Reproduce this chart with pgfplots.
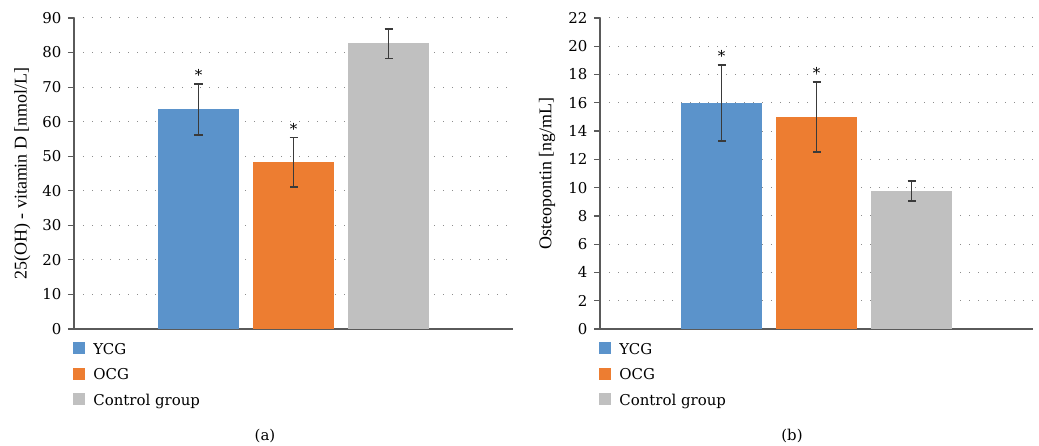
\documentclass[border=0pt]{standalone}
\usepackage{pgfplots}
\pgfplotsset{compat=1.18}
\usepackage{fontspec}
\setmainfont{DejaVu Serif}
\newfontfamily\lsfont{Liberation Serif}
\definecolor{cblue}{HTML}{5B93CB}
\definecolor{corange}{HTML}{ED7D31}
\definecolor{cgray}{HTML}{C0C0C0}
\definecolor{caxis}{HTML}{5A5A5A}
\definecolor{cerr}{HTML}{3A3A3A}
\newcommand{\fs}{\fontsize{15}{18}\selectfont}
\newcommand{\lfs}{\fontsize{18}{20}\lsfont}
\pgfplotsset{
  myaxis/.style={
    scale only axis, height=311bp,
    ybar=15bp, bar width=80bp,
    xmin=-1, xmax=1, xtick=\empty,
    ymin=0,
    axis x line=bottom, axis y line=left,
    axis line style={-, caxis, line width=1.2bp},
    ytick style={caxis, line width=1.2bp},
    tick align=outside, major tick length=6bp,
    ymajorgrids,
    grid style={black!45, dash pattern=on 1bp off 8bp, line width=1bp},
    tick label style={font=\fs},
    yticklabel style={xshift=-3bp},
    /pgf/number format/assume math mode=true,
    legend style={at={(0,0)}, anchor=north west, yshift=-10bp, xshift=-4bp,
      draw=none, fill=none, font=\fs, row sep=8.8bp},
    legend cell align=left,
    legend image code/.code={\fill[##1, draw=none] (0bp,-5bp) rectangle (12bp,7bp); \path (18bp,0bp);},
    error bars/y dir=both, error bars/y explicit,
    error bars/error bar style={line width=1.8bp, cerr},
    error bars/error mark options={rotate=90, mark size=4bp, line width=1.8bp, cerr},
  }
}
\begin{document}
\begin{tikzpicture}
\path[use as bounding box] (0,0) rectangle (1039bp,446bp);
% (a)
\begin{axis}[myaxis, at={(74bp,117bp)}, anchor=south west, width=439bp,
  ymax=90, ytick={0,10,...,90},
  ylabel={\lfs 25(OH) - vitamin D [nmol/L]},
  ylabel style={at={(axis description cs:-0.118,0.5)}, anchor=center}]
\addplot[fill=cblue, draw=cblue] coordinates {(0,63.5) +- (0,7.4)};
\addplot[fill=corange, draw=corange] coordinates {(0,48.3) +- (0,7.1)};
\addplot[fill=cgray, draw=cgray] coordinates {(0,82.6) +- (0,4.3)};
\legend{YCG, OCG, Control group}
\node[font=\fs, anchor=base, xshift=-95bp, yshift=3bp] at (axis cs:0,70.9) {*};
\node[font=\fs, anchor=base, yshift=3bp] at (axis cs:0,55.4) {*};
\end{axis}
% (b)
\begin{axis}[myaxis, at={(600bp,117bp)}, anchor=south west, width=433bp,
  ymax=22, ytick={0,2,...,22},
  ylabel={\lfs Osteopontin [ng/mL]},
  ylabel style={at={(axis description cs:-0.122,0.5)}, anchor=center}]
\addplot[fill=cblue, draw=cblue] coordinates {(0,16.0) +- (0,2.7)};
\addplot[fill=corange, draw=corange] coordinates {(0,15.0) +- (0,2.5)};
\addplot[fill=cgray, draw=cgray] coordinates {(0,9.77) +- (0,0.72)};
\legend{YCG, OCG, Control group}
\node[font=\fs, anchor=base, xshift=-95bp, yshift=3bp] at (axis cs:0,18.7) {*};
\node[font=\fs, anchor=base, yshift=3bp] at (axis cs:0,17.5) {*};
\end{axis}
\node[font=\fs] at (265bp,10bp) {(a)};
\node[font=\fs] at (792bp,10bp) {(b)};
\end{tikzpicture}
\end{document}
